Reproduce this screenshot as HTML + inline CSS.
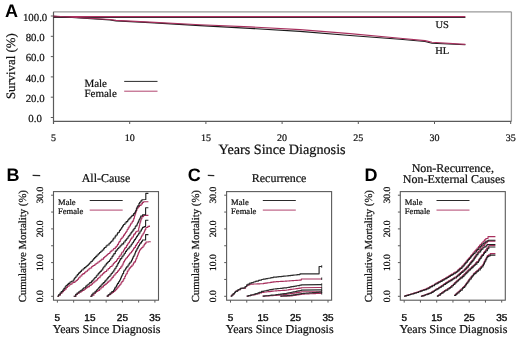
<!DOCTYPE html>
<html><head><meta charset="utf-8"><style>
html,body{margin:0;padding:0;background:#fff;width:520px;height:338px;overflow:hidden;}
svg{display:block;text-rendering:geometricPrecision;filter:blur(0.45px);}
</style></head><body>
<svg width="520" height="338" viewBox="0 0 520 338">
<rect width="520" height="338" fill="#fff"/>
<text x="5" y="16.7" font-size="18" font-family="Liberation Sans, sans-serif" text-anchor="start" font-weight="bold" fill="#000" >A</text>
<line x1="53.5" y1="11.8" x2="511.4" y2="11.8" stroke="#9a9a9a" stroke-width="1.3"/>
<line x1="511.4" y1="11.8" x2="511.4" y2="121.3" stroke="#9a9a9a" stroke-width="1.3"/>
<line x1="53.5" y1="11.8" x2="53.5" y2="124" stroke="#5a5a5a" stroke-width="1.2"/>
<line x1="53.5" y1="121.3" x2="511.4" y2="121.3" stroke="#5a5a5a" stroke-width="1.2"/>
<line x1="50.8" y1="16" x2="53.5" y2="16" stroke="#5a5a5a" stroke-width="1"/>
<text x="35.1" y="20.7" font-size="10.8" font-family="Liberation Serif, serif" text-anchor="middle" font-weight="normal" fill="#111" stroke="#111" stroke-width="0.22">100.0</text>
<line x1="50.8" y1="36.3" x2="53.5" y2="36.3" stroke="#5a5a5a" stroke-width="1"/>
<text x="35.1" y="41.0" font-size="10.8" font-family="Liberation Serif, serif" text-anchor="middle" font-weight="normal" fill="#111" stroke="#111" stroke-width="0.22">80.0</text>
<line x1="50.8" y1="56.6" x2="53.5" y2="56.6" stroke="#5a5a5a" stroke-width="1"/>
<text x="35.1" y="61.300000000000004" font-size="10.8" font-family="Liberation Serif, serif" text-anchor="middle" font-weight="normal" fill="#111" stroke="#111" stroke-width="0.22">60.0</text>
<line x1="50.8" y1="76.9" x2="53.5" y2="76.9" stroke="#5a5a5a" stroke-width="1"/>
<text x="35.1" y="81.60000000000001" font-size="10.8" font-family="Liberation Serif, serif" text-anchor="middle" font-weight="normal" fill="#111" stroke="#111" stroke-width="0.22">40.0</text>
<line x1="50.8" y1="97.2" x2="53.5" y2="97.2" stroke="#5a5a5a" stroke-width="1"/>
<text x="35.1" y="101.9" font-size="10.8" font-family="Liberation Serif, serif" text-anchor="middle" font-weight="normal" fill="#111" stroke="#111" stroke-width="0.22">20.0</text>
<line x1="50.8" y1="117.5" x2="53.5" y2="117.5" stroke="#5a5a5a" stroke-width="1"/>
<text x="35.1" y="122.2" font-size="10.8" font-family="Liberation Serif, serif" text-anchor="middle" font-weight="normal" fill="#111" stroke="#111" stroke-width="0.22">0.0</text>
<line x1="53.5" y1="121.3" x2="53.5" y2="124" stroke="#5a5a5a" stroke-width="1"/>
<text x="53.5" y="140.6" font-size="10" font-family="Liberation Serif, serif" text-anchor="middle" font-weight="normal" fill="#111" stroke="#111" stroke-width="0.22">5</text>
<line x1="129.7" y1="121.3" x2="129.7" y2="124" stroke="#5a5a5a" stroke-width="1"/>
<text x="129.7" y="140.6" font-size="10" font-family="Liberation Serif, serif" text-anchor="middle" font-weight="normal" fill="#111" stroke="#111" stroke-width="0.22">10</text>
<line x1="205.9" y1="121.3" x2="205.9" y2="124" stroke="#5a5a5a" stroke-width="1"/>
<text x="205.9" y="140.6" font-size="10" font-family="Liberation Serif, serif" text-anchor="middle" font-weight="normal" fill="#111" stroke="#111" stroke-width="0.22">15</text>
<line x1="282.1" y1="121.3" x2="282.1" y2="124" stroke="#5a5a5a" stroke-width="1"/>
<text x="282.1" y="140.6" font-size="10" font-family="Liberation Serif, serif" text-anchor="middle" font-weight="normal" fill="#111" stroke="#111" stroke-width="0.22">20</text>
<line x1="358.3" y1="121.3" x2="358.3" y2="124" stroke="#5a5a5a" stroke-width="1"/>
<text x="358.3" y="140.6" font-size="10" font-family="Liberation Serif, serif" text-anchor="middle" font-weight="normal" fill="#111" stroke="#111" stroke-width="0.22">25</text>
<line x1="434.5" y1="121.3" x2="434.5" y2="124" stroke="#5a5a5a" stroke-width="1"/>
<text x="434.5" y="140.6" font-size="10" font-family="Liberation Serif, serif" text-anchor="middle" font-weight="normal" fill="#111" stroke="#111" stroke-width="0.22">30</text>
<line x1="510.70000000000005" y1="121.3" x2="510.70000000000005" y2="124" stroke="#5a5a5a" stroke-width="1"/>
<text x="510.70000000000005" y="140.6" font-size="10" font-family="Liberation Serif, serif" text-anchor="middle" font-weight="normal" fill="#111" stroke="#111" stroke-width="0.22">35</text>
<text x="282.1" y="153.8" font-size="14.2" font-family="Liberation Serif, serif" text-anchor="middle" font-weight="normal" fill="#111" stroke="#111" stroke-width="0.22">Years Since Diagnosis</text>
<text transform="translate(14.7,66.2) rotate(-90)" font-size="12.8" font-family="Liberation Serif, serif" text-anchor="middle" fill="#111" stroke="#111" stroke-width="0.22">Survival (%)</text>
<line x1="53.5" y1="16.6" x2="465.4" y2="16.6" stroke="#b03060" stroke-width="1.3"/>
<line x1="53.5" y1="17.5" x2="465.4" y2="17.5" stroke="#1a0610" stroke-width="1.1" stroke-opacity="0.8"/>
<polyline points="53.50,16.20 72.00,17.50 110.00,19.90 116.00,20.90 150.00,22.60 200.00,25.60 250.00,28.40 300.00,31.40 350.00,35.50 400.00,39.20 425.00,41.50 432.00,43.20 465.40,44.80" fill="none" stroke="#1c1c1c" stroke-width="1.1" stroke-linejoin="round"/>
<polyline points="53.50,16.00 72.00,17.20 110.00,19.50 116.00,20.40 150.00,22.10 200.00,24.80 250.00,26.90 300.00,29.60 350.00,33.60 400.00,38.20 425.00,40.60 432.00,42.30 465.40,44.40" fill="none" stroke="#a8305e" stroke-width="1.1" stroke-linejoin="round"/>
<text x="442.1" y="27.6" font-size="10.5" font-family="Liberation Serif, serif" text-anchor="middle" font-weight="normal" fill="#111" stroke="#111" stroke-width="0.22">US</text>
<text x="442.2" y="54.4" font-size="10.5" font-family="Liberation Serif, serif" text-anchor="middle" font-weight="normal" fill="#111" stroke="#111" stroke-width="0.22">HL</text>
<text x="84.4" y="86.9" font-size="11" font-family="Liberation Serif, serif" text-anchor="start" font-weight="normal" fill="#111" stroke="#111" stroke-width="0.22">Male</text>
<text x="84.4" y="96.6" font-size="11" font-family="Liberation Serif, serif" text-anchor="start" font-weight="normal" fill="#111" stroke="#111" stroke-width="0.22">Female</text>
<line x1="124.2" y1="81.4" x2="157.5" y2="81.4" stroke="#2a2a2a" stroke-width="1.0"/>
<line x1="124.2" y1="91.2" x2="157.5" y2="91.2" stroke="#a8305e" stroke-width="0.9"/>
<text x="6.5" y="181.3" font-size="18" font-family="Liberation Sans, sans-serif" text-anchor="start" font-weight="bold" fill="#000" >B</text>
<rect x="53.5" y="191.6" width="105" height="108.6" fill="none" stroke="#5a5a5a" stroke-width="1.1"/>
<line x1="51.1" y1="296.3" x2="53.5" y2="296.3" stroke="#5a5a5a" stroke-width="1"/>
<line x1="51.1" y1="279.45" x2="53.5" y2="279.45" stroke="#5a5a5a" stroke-width="1"/>
<line x1="51.1" y1="262.6" x2="53.5" y2="262.6" stroke="#5a5a5a" stroke-width="1"/>
<line x1="51.1" y1="245.75" x2="53.5" y2="245.75" stroke="#5a5a5a" stroke-width="1"/>
<line x1="51.1" y1="228.9" x2="53.5" y2="228.9" stroke="#5a5a5a" stroke-width="1"/>
<line x1="51.1" y1="212.05" x2="53.5" y2="212.05" stroke="#5a5a5a" stroke-width="1"/>
<line x1="51.1" y1="195.2" x2="53.5" y2="195.2" stroke="#5a5a5a" stroke-width="1"/>
<text transform="translate(42.9,296.3) rotate(-90)" font-size="9.6" font-family="Liberation Serif, serif" text-anchor="middle" fill="#111" stroke="#111" stroke-width="0.22">0.0</text>
<text transform="translate(42.9,262.6) rotate(-90)" font-size="9.6" font-family="Liberation Serif, serif" text-anchor="middle" fill="#111" stroke="#111" stroke-width="0.22">10.0</text>
<text transform="translate(42.9,228.9) rotate(-90)" font-size="9.6" font-family="Liberation Serif, serif" text-anchor="middle" fill="#111" stroke="#111" stroke-width="0.22">20.0</text>
<text transform="translate(42.9,195.2) rotate(-90)" font-size="9.6" font-family="Liberation Serif, serif" text-anchor="middle" fill="#111" stroke="#111" stroke-width="0.22">30.0</text>
<line x1="57.4" y1="300.2" x2="57.4" y2="302.6" stroke="#5a5a5a" stroke-width="1"/>
<line x1="73.65" y1="300.2" x2="73.65" y2="302.6" stroke="#5a5a5a" stroke-width="1"/>
<line x1="89.9" y1="300.2" x2="89.9" y2="302.6" stroke="#5a5a5a" stroke-width="1"/>
<line x1="106.15" y1="300.2" x2="106.15" y2="302.6" stroke="#5a5a5a" stroke-width="1"/>
<line x1="122.4" y1="300.2" x2="122.4" y2="302.6" stroke="#5a5a5a" stroke-width="1"/>
<line x1="138.65" y1="300.2" x2="138.65" y2="302.6" stroke="#5a5a5a" stroke-width="1"/>
<line x1="154.9" y1="300.2" x2="154.9" y2="302.6" stroke="#5a5a5a" stroke-width="1"/>
<text x="57.4" y="321.2" font-size="10" font-family="Liberation Sans, sans-serif" text-anchor="middle" font-weight="normal" fill="#111" stroke="#111" stroke-width="0.4">5</text>
<text x="89.9" y="321.2" font-size="10" font-family="Liberation Sans, sans-serif" text-anchor="middle" font-weight="normal" fill="#111" stroke="#111" stroke-width="0.4">15</text>
<text x="122.4" y="321.2" font-size="10" font-family="Liberation Sans, sans-serif" text-anchor="middle" font-weight="normal" fill="#111" stroke="#111" stroke-width="0.4">25</text>
<text x="154.9" y="321.2" font-size="10" font-family="Liberation Sans, sans-serif" text-anchor="middle" font-weight="normal" fill="#111" stroke="#111" stroke-width="0.4">35</text>
<text x="106.6" y="333.3" font-size="12.05" font-family="Liberation Serif, serif" text-anchor="middle" font-weight="normal" fill="#111" stroke="#111" stroke-width="0.22">Years Since Diagnosis</text>
<text transform="translate(25.5,246.2) rotate(-90)" font-size="10.75" font-family="Liberation Serif, serif" text-anchor="middle" fill="#111" stroke="#111" stroke-width="0.22">Cumulative Mortality (%)</text>
<text x="106.0" y="182" font-size="12" font-family="Liberation Serif, serif" text-anchor="middle" font-weight="normal" fill="#111" stroke="#111" stroke-width="0.22">All-Cause</text>
<text x="58.0" y="204.7" font-size="8.6" font-family="Liberation Serif, serif" text-anchor="start" font-weight="normal" fill="#111" stroke="#111" stroke-width="0.22">Male</text>
<text x="58.0" y="214.3" font-size="8.6" font-family="Liberation Serif, serif" text-anchor="start" font-weight="normal" fill="#111" stroke="#111" stroke-width="0.22">Female</text>
<line x1="89.7" y1="200.5" x2="122.7" y2="200.5" stroke="#2a2a2a" stroke-width="1.0"/>
<line x1="89.7" y1="210.1" x2="122.7" y2="210.1" stroke="#a8305e" stroke-width="0.9"/>
<text x="187.7" y="181.3" font-size="18" font-family="Liberation Sans, sans-serif" text-anchor="start" font-weight="bold" fill="#000" >C</text>
<rect x="226.6" y="191.6" width="105" height="108.6" fill="none" stroke="#5a5a5a" stroke-width="1.1"/>
<line x1="224.2" y1="296.3" x2="226.6" y2="296.3" stroke="#5a5a5a" stroke-width="1"/>
<line x1="224.2" y1="279.45" x2="226.6" y2="279.45" stroke="#5a5a5a" stroke-width="1"/>
<line x1="224.2" y1="262.6" x2="226.6" y2="262.6" stroke="#5a5a5a" stroke-width="1"/>
<line x1="224.2" y1="245.75" x2="226.6" y2="245.75" stroke="#5a5a5a" stroke-width="1"/>
<line x1="224.2" y1="228.9" x2="226.6" y2="228.9" stroke="#5a5a5a" stroke-width="1"/>
<line x1="224.2" y1="212.05" x2="226.6" y2="212.05" stroke="#5a5a5a" stroke-width="1"/>
<line x1="224.2" y1="195.2" x2="226.6" y2="195.2" stroke="#5a5a5a" stroke-width="1"/>
<text transform="translate(216.0,296.3) rotate(-90)" font-size="9.6" font-family="Liberation Serif, serif" text-anchor="middle" fill="#111" stroke="#111" stroke-width="0.22">0.0</text>
<text transform="translate(216.0,262.6) rotate(-90)" font-size="9.6" font-family="Liberation Serif, serif" text-anchor="middle" fill="#111" stroke="#111" stroke-width="0.22">10.0</text>
<text transform="translate(216.0,228.9) rotate(-90)" font-size="9.6" font-family="Liberation Serif, serif" text-anchor="middle" fill="#111" stroke="#111" stroke-width="0.22">20.0</text>
<text transform="translate(216.0,195.2) rotate(-90)" font-size="9.6" font-family="Liberation Serif, serif" text-anchor="middle" fill="#111" stroke="#111" stroke-width="0.22">30.0</text>
<line x1="230.5" y1="300.2" x2="230.5" y2="302.6" stroke="#5a5a5a" stroke-width="1"/>
<line x1="246.75" y1="300.2" x2="246.75" y2="302.6" stroke="#5a5a5a" stroke-width="1"/>
<line x1="263.0" y1="300.2" x2="263.0" y2="302.6" stroke="#5a5a5a" stroke-width="1"/>
<line x1="279.25" y1="300.2" x2="279.25" y2="302.6" stroke="#5a5a5a" stroke-width="1"/>
<line x1="295.5" y1="300.2" x2="295.5" y2="302.6" stroke="#5a5a5a" stroke-width="1"/>
<line x1="311.75" y1="300.2" x2="311.75" y2="302.6" stroke="#5a5a5a" stroke-width="1"/>
<line x1="328.0" y1="300.2" x2="328.0" y2="302.6" stroke="#5a5a5a" stroke-width="1"/>
<text x="230.5" y="321.2" font-size="10" font-family="Liberation Sans, sans-serif" text-anchor="middle" font-weight="normal" fill="#111" stroke="#111" stroke-width="0.4">5</text>
<text x="263.0" y="321.2" font-size="10" font-family="Liberation Sans, sans-serif" text-anchor="middle" font-weight="normal" fill="#111" stroke="#111" stroke-width="0.4">15</text>
<text x="295.5" y="321.2" font-size="10" font-family="Liberation Sans, sans-serif" text-anchor="middle" font-weight="normal" fill="#111" stroke="#111" stroke-width="0.4">25</text>
<text x="328.0" y="321.2" font-size="10" font-family="Liberation Sans, sans-serif" text-anchor="middle" font-weight="normal" fill="#111" stroke="#111" stroke-width="0.4">35</text>
<text x="279.7" y="333.3" font-size="12.05" font-family="Liberation Serif, serif" text-anchor="middle" font-weight="normal" fill="#111" stroke="#111" stroke-width="0.22">Years Since Diagnosis</text>
<text transform="translate(198.6,246.2) rotate(-90)" font-size="10.75" font-family="Liberation Serif, serif" text-anchor="middle" fill="#111" stroke="#111" stroke-width="0.22">Cumulative Mortality (%)</text>
<text x="279.1" y="182" font-size="12" font-family="Liberation Serif, serif" text-anchor="middle" font-weight="normal" fill="#111" stroke="#111" stroke-width="0.22">Recurrence</text>
<text x="231.1" y="204.7" font-size="8.6" font-family="Liberation Serif, serif" text-anchor="start" font-weight="normal" fill="#111" stroke="#111" stroke-width="0.22">Male</text>
<text x="231.1" y="214.3" font-size="8.6" font-family="Liberation Serif, serif" text-anchor="start" font-weight="normal" fill="#111" stroke="#111" stroke-width="0.22">Female</text>
<line x1="262.8" y1="200.5" x2="295.8" y2="200.5" stroke="#2a2a2a" stroke-width="1.0"/>
<line x1="262.8" y1="210.1" x2="295.8" y2="210.1" stroke="#a8305e" stroke-width="0.9"/>
<text x="364.6" y="181.3" font-size="18" font-family="Liberation Sans, sans-serif" text-anchor="start" font-weight="bold" fill="#000" >D</text>
<rect x="400.3" y="191.6" width="105" height="108.6" fill="none" stroke="#5a5a5a" stroke-width="1.1"/>
<line x1="397.90000000000003" y1="296.3" x2="400.3" y2="296.3" stroke="#5a5a5a" stroke-width="1"/>
<line x1="397.90000000000003" y1="279.45" x2="400.3" y2="279.45" stroke="#5a5a5a" stroke-width="1"/>
<line x1="397.90000000000003" y1="262.6" x2="400.3" y2="262.6" stroke="#5a5a5a" stroke-width="1"/>
<line x1="397.90000000000003" y1="245.75" x2="400.3" y2="245.75" stroke="#5a5a5a" stroke-width="1"/>
<line x1="397.90000000000003" y1="228.9" x2="400.3" y2="228.9" stroke="#5a5a5a" stroke-width="1"/>
<line x1="397.90000000000003" y1="212.05" x2="400.3" y2="212.05" stroke="#5a5a5a" stroke-width="1"/>
<line x1="397.90000000000003" y1="195.2" x2="400.3" y2="195.2" stroke="#5a5a5a" stroke-width="1"/>
<text transform="translate(389.7,296.3) rotate(-90)" font-size="9.6" font-family="Liberation Serif, serif" text-anchor="middle" fill="#111" stroke="#111" stroke-width="0.22">0.0</text>
<text transform="translate(389.7,262.6) rotate(-90)" font-size="9.6" font-family="Liberation Serif, serif" text-anchor="middle" fill="#111" stroke="#111" stroke-width="0.22">10.0</text>
<text transform="translate(389.7,228.9) rotate(-90)" font-size="9.6" font-family="Liberation Serif, serif" text-anchor="middle" fill="#111" stroke="#111" stroke-width="0.22">20.0</text>
<text transform="translate(389.7,195.2) rotate(-90)" font-size="9.6" font-family="Liberation Serif, serif" text-anchor="middle" fill="#111" stroke="#111" stroke-width="0.22">30.0</text>
<line x1="404.2" y1="300.2" x2="404.2" y2="302.6" stroke="#5a5a5a" stroke-width="1"/>
<line x1="420.45" y1="300.2" x2="420.45" y2="302.6" stroke="#5a5a5a" stroke-width="1"/>
<line x1="436.7" y1="300.2" x2="436.7" y2="302.6" stroke="#5a5a5a" stroke-width="1"/>
<line x1="452.95" y1="300.2" x2="452.95" y2="302.6" stroke="#5a5a5a" stroke-width="1"/>
<line x1="469.2" y1="300.2" x2="469.2" y2="302.6" stroke="#5a5a5a" stroke-width="1"/>
<line x1="485.45" y1="300.2" x2="485.45" y2="302.6" stroke="#5a5a5a" stroke-width="1"/>
<line x1="501.7" y1="300.2" x2="501.7" y2="302.6" stroke="#5a5a5a" stroke-width="1"/>
<text x="404.2" y="321.2" font-size="10" font-family="Liberation Sans, sans-serif" text-anchor="middle" font-weight="normal" fill="#111" stroke="#111" stroke-width="0.4">5</text>
<text x="436.7" y="321.2" font-size="10" font-family="Liberation Sans, sans-serif" text-anchor="middle" font-weight="normal" fill="#111" stroke="#111" stroke-width="0.4">15</text>
<text x="469.2" y="321.2" font-size="10" font-family="Liberation Sans, sans-serif" text-anchor="middle" font-weight="normal" fill="#111" stroke="#111" stroke-width="0.4">25</text>
<text x="501.7" y="321.2" font-size="10" font-family="Liberation Sans, sans-serif" text-anchor="middle" font-weight="normal" fill="#111" stroke="#111" stroke-width="0.4">35</text>
<text x="453.40000000000003" y="333.3" font-size="12.05" font-family="Liberation Serif, serif" text-anchor="middle" font-weight="normal" fill="#111" stroke="#111" stroke-width="0.22">Years Since Diagnosis</text>
<text transform="translate(372.3,246.2) rotate(-90)" font-size="10.75" font-family="Liberation Serif, serif" text-anchor="middle" fill="#111" stroke="#111" stroke-width="0.22">Cumulative Mortality (%)</text>
<text x="452.8" y="172" font-size="12" font-family="Liberation Serif, serif" text-anchor="middle" font-weight="normal" fill="#111" stroke="#111" stroke-width="0.22">Non-Recurrence,</text>
<text x="453.90000000000003" y="182.8" font-size="12" font-family="Liberation Serif, serif" text-anchor="middle" font-weight="normal" fill="#111" stroke="#111" stroke-width="0.22">Non-External Causes</text>
<text x="404.8" y="204.7" font-size="8.6" font-family="Liberation Serif, serif" text-anchor="start" font-weight="normal" fill="#111" stroke="#111" stroke-width="0.22">Male</text>
<text x="404.8" y="214.3" font-size="8.6" font-family="Liberation Serif, serif" text-anchor="start" font-weight="normal" fill="#111" stroke="#111" stroke-width="0.22">Female</text>
<line x1="436.5" y1="200.5" x2="469.5" y2="200.5" stroke="#2a2a2a" stroke-width="1.0"/>
<line x1="436.5" y1="210.1" x2="469.5" y2="210.1" stroke="#a8305e" stroke-width="0.9"/>
<path d="M32.6,175.4 L40.2,175.6" stroke="#262626" stroke-width="1.3" fill="none"/>
<path d="M207.8,175.4 L214.3,175.6" stroke="#262626" stroke-width="1.3" fill="none"/>
<polyline points="57.40,296.30 58.72,296.30 58.72,295.00 60.43,295.00 60.43,293.30 62.02,293.30 62.02,291.82 63.54,291.82 63.54,290.40 64.76,290.40 64.76,289.09 66.21,289.09 66.21,287.53 67.44,287.53 67.44,286.20 69.02,286.20 69.02,285.07 70.09,285.07 70.09,284.30 71.90,284.30 71.90,283.00 72.98,283.00 72.98,282.37 75.01,282.37 75.01,281.19 76.20,281.19 76.20,280.50 77.31,280.50 77.31,279.18 78.57,279.18 78.57,277.70 80.00,277.70 80.00,276.00 81.85,276.00 81.85,274.50 82.94,274.50 82.94,273.62 84.69,273.62 84.69,272.20 85.90,272.20 85.90,271.21 87.40,271.21 87.40,270.00 88.90,270.00 88.90,268.80 89.96,268.80 89.96,267.95 91.69,267.95 91.69,266.55 93.00,266.55 93.00,265.50 94.85,265.50 94.85,264.20 96.14,264.20 96.14,263.29 97.87,263.29 97.87,262.07 99.37,262.07 99.37,261.01 100.80,261.01 100.80,260.00 101.82,260.00 101.82,259.12 103.57,259.12 103.57,257.60 104.76,257.60 104.76,256.57 106.00,256.57 106.00,255.50 107.08,255.50 107.08,254.51 108.12,254.51 108.12,253.56 109.82,253.56 109.82,252.00 110.78,252.00 110.78,251.11 112.00,251.11 112.00,250.00 113.66,250.00 113.66,248.52 115.28,248.52 115.28,247.08 116.50,247.08 116.50,246.00 117.50,246.00 117.50,244.34 118.49,244.34 118.49,242.68 119.15,242.68 119.15,241.58 120.24,241.58 120.24,239.77 121.00,239.77 121.00,238.50 122.09,238.50 122.09,237.04 123.50,237.04 123.50,235.17 124.59,235.17 124.59,233.72 125.50,233.72 125.50,232.50 126.23,232.50 126.23,231.20 127.16,231.20 127.16,229.55 128.10,229.55 128.10,227.85 129.14,227.85 129.14,226.00 130.39,226.00 130.39,224.15 131.13,224.15 131.13,223.05 132.24,223.05 132.24,221.41 133.19,221.41 133.19,220.00 133.73,220.00 133.73,218.20 134.40,218.20 134.40,215.99 135.00,215.99 135.00,214.00 135.63,214.00 135.63,212.11 136.28,212.11 136.28,210.15 137.00,210.15 137.00,208.00 138.30,208.00 138.30,206.64 139.50,206.64 139.50,205.40 141.06,205.40 141.06,203.84 142.50,203.84 142.50,202.40 143.60,202.40 143.60,201.80 148.40,201.80" fill="none" stroke="#a8305e" stroke-width="1.1" stroke-linejoin="round"/>
<polyline points="73.70,296.30 75.94,296.30 75.94,294.50 77.43,294.50 77.43,293.30 79.21,293.30 79.21,292.28 81.05,292.28 81.05,291.23 82.33,291.23 82.33,290.50 84.03,290.50 84.03,289.32 85.57,289.32 85.57,288.25 86.78,288.25 86.78,287.41 87.86,287.41 87.86,286.67 89.54,286.67 89.54,285.50 91.11,285.50 91.11,284.20 92.52,284.20 92.52,283.04 93.81,283.04 93.81,281.98 94.91,281.98 94.91,281.06 96.20,281.06 96.20,280.00 97.53,280.00 97.53,278.62 98.43,278.62 98.43,277.68 100.00,277.68 100.00,276.04 101.00,276.04 101.00,275.00 102.45,275.00 102.45,273.70 103.65,273.70 103.65,272.63 104.89,272.63 104.89,271.52 106.60,271.52 106.60,270.00 108.19,270.00 108.19,268.53 109.63,268.53 109.63,267.19 110.37,267.19 110.37,266.51 112.00,266.51 112.00,265.00 113.29,265.00 113.29,263.56 114.20,263.56 114.20,262.56 115.18,262.56 115.18,261.47 116.50,261.47 116.50,260.00 117.55,260.00 117.55,258.51 118.99,258.51 118.99,256.44 120.00,256.44 120.00,255.00 121.38,255.00 121.38,253.02 122.07,253.02 122.07,252.05 123.50,252.05 123.50,250.00 124.56,250.00 124.56,248.41 125.27,248.41 125.27,247.34 126.61,247.34 126.61,245.34 127.50,245.34 127.50,244.00 128.32,244.00 128.32,242.72 129.47,242.72 129.47,240.93 130.42,240.93 130.42,239.46 131.10,239.46 131.10,238.40 132.00,238.40 132.00,237.00 133.46,237.00 133.46,234.92 134.22,234.92 134.22,233.83 135.50,233.83 135.50,232.00 136.61,232.00 136.61,231.21 138.31,231.21 138.31,230.00 138.68,230.00 138.68,228.32 138.93,228.32 138.93,227.17 139.32,227.17 139.32,225.44 139.70,225.44 139.70,223.67 140.07,223.67 140.07,222.00 140.71,222.00 140.71,220.10 141.19,220.10 141.19,218.71 141.90,218.71 141.90,216.60 143.60,216.60 143.60,215.40 148.40,215.40" fill="none" stroke="#a8305e" stroke-width="1.1" stroke-linejoin="round"/>
<polyline points="90.30,296.30 91.70,296.30 91.70,295.14 93.93,295.14 93.93,293.30 95.47,293.30 95.47,292.20 96.41,292.20 96.41,291.52 97.83,291.52 97.83,290.50 99.58,290.50 99.58,288.96 100.97,288.96 100.97,287.75 102.03,287.75 102.03,286.83 103.54,286.83 103.54,285.50 104.81,285.50 104.81,284.42 106.14,284.42 106.14,283.29 107.51,283.29 107.51,282.12 108.77,282.12 108.77,281.05 110.00,281.05 110.00,280.00 111.03,280.00 111.03,278.71 112.06,278.71 112.06,277.42 113.22,277.42 113.22,275.97 114.00,275.97 114.00,275.00 115.13,275.00 115.13,273.75 116.21,273.75 116.21,272.54 117.50,272.54 117.50,271.11 118.50,271.11 118.50,270.00 119.51,270.00 119.51,268.55 120.72,268.55 120.72,266.83 122.00,266.83 122.00,265.00 123.03,265.00 123.03,262.94 123.68,262.94 123.68,261.65 124.50,261.65 124.50,260.00 125.52,260.00 125.52,258.72 126.26,258.72 126.26,257.81 127.46,257.81 127.46,256.30 128.50,256.30 128.50,255.00 129.54,255.00 129.54,253.70 130.26,253.70 130.26,252.80 131.56,252.80 131.56,251.18 132.50,251.18 132.50,250.00 133.57,250.00 133.57,248.40 134.28,248.40 134.28,247.33 135.56,247.33 135.56,245.40 136.50,245.40 136.50,244.00 137.48,244.00 137.48,242.53 138.59,242.53 138.59,240.87 139.43,240.87 139.43,239.61 140.50,239.61 140.50,238.00 141.33,238.00 141.33,236.34 142.00,236.34 142.00,235.00 143.12,235.00 143.12,233.32 144.00,233.32 144.00,232.00 144.47,232.00 144.47,230.86 145.10,230.86 145.10,229.33 145.86,229.33 145.86,227.50 147.82,227.50 147.82,226.41 149.47,226.41 149.47,225.50" fill="none" stroke="#a8305e" stroke-width="1.1" stroke-linejoin="round"/>
<polyline points="106.70,296.10 108.42,296.10 108.42,294.95 109.33,294.95 109.33,294.35 110.90,294.35 110.90,293.30 112.17,293.30 112.17,292.39 113.56,292.39 113.56,291.39 114.80,291.39 114.80,290.50 115.76,290.50 115.76,289.36 116.84,289.36 116.84,288.09 117.86,288.09 117.86,286.87 119.01,286.87 119.01,285.50 119.95,285.50 119.95,284.21 121.05,284.21 121.05,282.68 121.90,282.68 121.90,281.51 123.00,281.51 123.00,280.00 123.78,280.00 123.78,278.44 124.78,278.44 124.78,276.44 125.50,276.44 125.50,275.00 126.14,275.00 126.14,273.73 127.20,273.73 127.20,271.61 128.00,271.61 128.00,270.00 129.12,270.00 129.12,268.60 129.91,268.60 129.91,267.62 130.86,267.62 130.86,266.42 132.00,266.42 132.00,265.00 133.34,265.00 133.34,263.08 134.18,263.08 134.18,261.88 135.50,261.88 135.50,260.00 136.06,260.00 136.06,258.59 136.81,258.59 136.81,256.72 137.50,256.72 137.50,255.00 138.23,255.00 138.23,253.17 138.70,253.17 138.70,252.00 139.50,252.00 139.50,250.00 140.56,250.00 140.56,248.79 141.74,248.79 141.74,247.44 143.00,247.44 143.00,246.00 144.17,246.00 144.17,244.44 144.97,244.44 144.97,243.37 146.00,243.37 146.00,242.00 148.59,242.00 148.59,241.76 150.40,241.76 150.40,241.60" fill="none" stroke="#a8305e" stroke-width="1.1" stroke-linejoin="round"/>
<polyline points="57.40,296.30 58.49,296.30 58.49,294.92 60.00,294.92 60.00,293.00 61.24,293.00 61.24,291.62 62.70,291.62 62.70,290.00 63.88,290.00 63.88,288.39 65.11,288.39 65.11,286.71 66.00,286.71 66.00,285.50 67.30,285.50 67.30,284.36 68.48,284.36 68.48,283.33 70.00,283.33 70.00,282.00 71.30,282.00 71.30,281.19 73.20,281.19 73.20,280.00 74.15,280.00 74.15,278.65 74.92,278.65 74.92,277.54 76.00,277.54 76.00,276.00 77.27,276.00 77.27,274.62 78.39,274.62 78.39,273.40 79.13,273.40 79.13,272.59 80.28,272.59 80.28,271.33 81.50,271.33 81.50,270.00 83.09,270.00 83.09,268.70 84.35,268.70 84.35,267.67 85.84,267.67 85.84,266.45 87.00,266.45 87.00,265.50 88.22,265.50 88.22,264.23 89.40,264.23 89.40,263.00 90.84,263.00 90.84,261.52 92.30,261.52 92.30,260.00 93.65,260.00 93.65,258.57 94.52,258.57 94.52,257.64 95.73,257.64 95.73,256.35 97.00,256.35 97.00,255.00 98.25,255.00 98.25,253.80 99.55,253.80 99.55,252.55 100.84,252.55 100.84,251.31 102.20,251.31 102.20,250.00 103.73,250.00 103.73,248.39 104.52,248.39 104.52,247.56 106.00,247.56 106.00,246.00 107.03,246.00 107.03,245.06 109.05,245.06 109.05,243.22 110.39,243.22 110.39,242.01 111.50,242.01 111.50,241.00 112.90,241.00 112.90,239.13 113.71,239.13 113.71,238.05 115.13,238.05 115.13,236.16 116.00,236.16 116.00,235.00 117.37,235.00 117.37,233.18 118.09,233.18 118.09,232.21 119.51,232.21 119.51,230.32 120.50,230.32 120.50,229.00 121.67,229.00 121.67,227.25 122.58,227.25 122.58,225.88 123.50,225.88 123.50,224.50 124.91,224.50 124.91,222.99 126.15,222.99 126.15,221.66 127.70,221.66 127.70,220.00 128.71,220.00 128.71,218.93 129.75,218.93 129.75,217.83 131.00,217.83 131.00,216.50 131.99,216.50 131.99,215.40 133.59,215.40 133.59,213.64 134.80,213.64 134.80,212.30 135.46,212.30 135.46,210.72 136.38,210.72 136.38,208.49 137.00,208.49 137.00,207.00 137.67,207.00 137.67,205.76 138.91,205.76 138.91,203.48 139.60,203.48 139.60,202.20 140.86,202.20 140.86,200.88 141.90,200.88 141.90,199.80 145.80,199.50 145.80,193.40 148.40,193.40" fill="none" stroke="#222" stroke-width="1.12" stroke-linejoin="round"/>
<polyline points="73.70,296.30 75.70,296.30 75.70,294.30 77.00,294.30 77.00,293.00 78.68,293.00 78.68,291.80 80.08,291.80 80.08,290.80 81.20,290.80 81.20,290.00 82.71,290.00 82.71,288.70 83.75,288.70 83.75,287.80 85.73,287.80 85.73,286.10 87.00,286.10 87.00,285.00 88.19,285.00 88.19,283.96 89.71,283.96 89.71,282.63 91.39,282.63 91.39,281.15 92.70,281.15 92.70,280.00 93.79,280.00 93.79,278.73 94.80,278.73 94.80,277.55 96.16,277.55 96.16,275.98 97.00,275.98 97.00,275.00 98.14,275.00 98.14,273.68 99.06,273.68 99.06,272.60 100.09,272.60 100.09,271.40 101.30,271.40 101.30,270.00 102.76,270.00 102.76,268.03 103.75,268.03 103.75,266.69 105.00,266.69 105.00,265.00 106.28,265.00 106.28,263.57 107.17,263.57 107.17,262.59 108.20,262.59 108.20,261.44 109.50,261.44 109.50,260.00 110.69,260.00 110.69,258.30 112.02,258.30 112.02,256.40 113.00,256.40 113.00,255.00 113.89,255.00 113.89,253.61 115.29,253.61 115.29,251.42 116.20,251.42 116.20,250.00 117.65,250.00 117.65,248.49 118.78,248.49 118.78,247.31 119.99,247.31 119.99,246.05 121.00,246.05 121.00,245.00 121.98,245.00 121.98,243.91 123.68,243.91 123.68,242.01 125.14,242.01 125.14,240.39 126.20,240.39 126.20,239.20 126.94,239.20 126.94,238.19 127.99,238.19 127.99,236.75 128.94,236.75 128.94,235.45 130.00,235.45 130.00,234.00 131.01,234.00 131.01,232.61 131.96,232.61 131.96,231.30 132.99,231.30 132.99,229.89 134.00,229.89 134.00,228.50 135.14,228.50 135.14,226.79 135.75,226.79 135.75,225.87 137.00,225.87 137.00,224.00 137.58,224.00 137.58,222.76 138.34,222.76 138.34,221.10 139.08,221.10 139.08,219.50 139.80,219.50 139.80,217.95 140.70,217.95 140.70,216.00 142.50,216.00 142.50,214.80 145.60,214.80 145.60,207.70 148.40,207.70" fill="none" stroke="#222" stroke-width="1.12" stroke-linejoin="round"/>
<polyline points="90.30,296.30 91.97,296.30 91.97,294.26 93.00,294.26 93.00,293.00 95.06,293.00 95.06,291.23 96.50,291.23 96.50,290.00 97.39,290.00 97.39,289.01 98.75,289.01 98.75,287.50 99.77,287.50 99.77,286.37 101.00,286.37 101.00,285.00 102.09,285.00 102.09,283.87 103.31,283.87 103.31,282.59 104.69,282.59 104.69,281.16 105.80,281.16 105.80,280.00 106.90,280.00 106.90,278.70 107.83,278.70 107.83,277.59 108.79,277.59 108.79,276.44 110.00,276.44 110.00,275.00 111.16,275.00 111.16,273.48 112.30,273.48 112.30,271.98 113.80,271.98 113.80,270.00 114.90,270.00 114.90,268.29 116.05,268.29 116.05,266.49 117.00,266.49 117.00,265.00 117.81,265.00 117.81,263.43 118.55,263.43 118.55,262.02 119.60,262.02 119.60,260.00 120.55,260.00 120.55,258.60 121.79,258.60 121.79,256.77 123.00,256.77 123.00,255.00 124.23,255.00 124.23,253.25 125.50,253.25 125.50,251.43 126.50,251.43 126.50,250.00 127.60,250.00 127.60,248.75 129.01,248.75 129.01,247.13 130.00,247.13 130.00,246.00 131.24,246.00 131.24,244.23 132.29,244.23 132.29,242.72 133.50,242.72 133.50,241.00 134.44,241.00 134.44,239.60 135.50,239.60 135.50,238.00 136.60,238.00 136.60,236.35 137.50,236.35 137.50,235.00 138.70,235.00 138.70,233.08 140.00,233.08 140.00,231.00 141.37,231.00 141.37,229.03 142.50,229.03 142.50,227.40 144.02,227.40 144.02,226.47 145.60,226.47 145.60,225.50 145.60,220.20 148.40,220.20" fill="none" stroke="#222" stroke-width="1.12" stroke-linejoin="round"/>
<polyline points="106.70,296.10 108.14,296.10 108.14,294.75 110.00,294.75 110.00,293.00 111.78,293.00 111.78,291.47 113.50,291.47 113.50,290.00 114.60,290.00 114.60,288.17 115.29,288.17 115.29,287.02 116.50,287.02 116.50,285.00 117.49,285.00 117.49,283.40 118.53,283.40 118.53,281.73 119.60,281.73 119.60,280.00 120.55,280.00 120.55,278.02 121.37,278.02 121.37,276.30 122.00,276.30 122.00,275.00 122.69,275.00 122.69,273.44 123.61,273.44 123.61,271.34 124.20,271.34 124.20,270.00 125.65,270.00 125.65,268.09 126.58,268.09 126.58,266.86 128.00,266.86 128.00,265.00 129.15,265.00 129.15,263.36 130.11,263.36 130.11,261.98 131.50,261.98 131.50,260.00 132.46,260.00 132.46,258.07 133.23,258.07 133.23,256.53 134.00,256.53 134.00,255.00 134.88,255.00 134.88,253.01 135.57,253.01 135.57,251.42 136.20,251.42 136.20,250.00 137.09,250.00 137.09,248.37 137.95,248.37 137.95,246.82 138.70,246.82 138.70,245.45 139.50,245.45 139.50,244.00 140.30,244.00 140.30,242.93 141.54,242.93 141.54,241.27 142.50,241.27 142.50,240.00 145.60,240.00 145.60,234.60 148.40,234.60" fill="none" stroke="#222" stroke-width="1.12" stroke-linejoin="round"/>
<polyline points="230.70,296.10 231.60,296.10 231.60,295.22 232.89,295.22 232.89,293.96 234.46,293.96 234.46,292.41 235.50,292.41 235.50,291.40 236.71,291.40 236.71,290.68 238.31,290.68 238.31,289.72 240.20,289.72 240.20,288.60 241.64,288.60 241.64,288.44 243.80,288.44 243.80,288.20 245.53,288.20 245.53,286.59 246.70,286.59 246.70,285.50 247.96,285.50 247.96,284.95 249.70,284.95 249.70,284.20 250.98,284.20 250.98,284.15 253.36,284.15 253.36,284.04 254.44,284.04 254.44,284.00 256.73,284.00 256.73,283.90 258.27,283.90 258.27,283.84 260.10,283.84 260.10,283.76 261.50,283.76 261.50,283.70 263.57,283.70 263.57,283.38 264.94,283.38 264.94,283.18 266.81,283.18 266.81,282.89 267.85,282.89 267.85,282.73 270.15,282.73 270.15,282.38 271.62,282.38 271.62,282.16 273.30,282.16 273.30,281.90 275.18,281.90 275.18,281.77 276.37,281.77 276.37,281.69 278.61,281.69 278.61,281.54 280.47,281.54 280.47,281.42 281.43,281.42 281.43,281.35 283.35,281.35 283.35,281.22 285.20,281.22 285.20,281.10 286.99,281.10 286.99,280.97 288.95,280.97 288.95,280.84 290.18,280.84 290.18,280.75 291.86,280.75 291.86,280.63 293.65,280.63 293.65,280.50 295.70,280.50 295.70,280.36 297.55,280.36 297.55,280.23 298.97,280.23 298.97,280.13 300.80,280.13 300.80,280.00 301.30,280.00 301.30,279.00 319.10,279.00 321.70,279.00" fill="none" stroke="#a8305e" stroke-width="1.15" stroke-linejoin="round"/>
<polyline points="246.70,296.10 248.36,296.10 248.36,295.75 250.17,295.75 250.17,295.36 251.91,295.36 251.91,294.99 253.75,294.99 253.75,294.60 255.60,294.60 255.60,294.20 257.16,294.20 257.16,293.73 259.53,293.73 259.53,293.00 261.50,293.00 261.50,292.40 263.58,292.40 263.58,292.15 264.80,292.15 264.80,292.01 266.77,292.01 266.77,291.78 267.96,291.78 267.96,291.63 270.09,291.63 270.09,291.38 271.83,291.38 271.83,291.17 273.30,291.17 273.30,291.00 275.15,291.00 275.15,290.88 276.71,290.88 276.71,290.77 278.39,290.77 278.39,290.66 280.22,290.66 280.22,290.53 282.14,290.53 282.14,290.41 283.20,290.41 283.20,290.33 285.20,290.33 285.20,290.20 286.48,290.20 286.48,290.01 288.62,290.01 288.62,289.69 290.37,289.69 290.37,289.43 291.65,289.43 291.65,289.24 293.20,289.24 293.20,289.01 295.04,289.01 295.04,288.73 296.22,288.73 296.22,288.56 297.89,288.56 297.89,288.31 299.45,288.31 299.45,288.08 301.30,288.08 301.30,287.80 319.10,287.50 321.70,287.50" fill="none" stroke="#a8305e" stroke-width="1.15" stroke-linejoin="round"/>
<polyline points="262.70,296.10 264.54,296.10 264.54,296.00 266.07,296.00 266.07,295.91 267.76,295.91 267.76,295.81 269.94,295.81 269.94,295.69 271.93,295.69 271.93,295.58 273.30,295.58 273.30,295.50 274.83,295.50 274.83,295.37 276.87,295.37 276.87,295.20 278.33,295.20 278.33,295.08 280.40,295.08 280.40,294.90 281.87,294.90 281.87,294.78 283.30,294.78 283.30,294.66 285.20,294.66 285.20,294.50 286.58,294.50 286.58,294.27 288.04,294.27 288.04,294.02 290.01,294.02 290.01,293.69 291.55,293.69 291.55,293.44 292.99,293.44 292.99,293.19 294.75,293.19 294.75,292.90 296.33,292.90 296.33,292.63 298.30,292.63 298.30,292.30 299.40,292.30 299.40,292.12 301.30,292.12 301.30,291.80 319.10,291.70 321.70,291.70" fill="none" stroke="#a8305e" stroke-width="1.15" stroke-linejoin="round"/>
<polyline points="280.40,296.10 290.00,295.90 292.01,295.90 292.01,295.60 293.21,295.60 293.21,295.42 294.92,295.42 294.92,295.16 296.43,295.16 296.43,294.93 298.34,294.93 298.34,294.65 299.95,294.65 299.95,294.40 301.30,294.40 301.30,294.20 302.96,294.20 302.96,294.12 304.52,294.12 304.52,294.04 306.33,294.04 306.33,293.95 308.06,293.95 308.06,293.86 309.31,293.86 309.31,293.79 311.20,293.79 311.20,293.70 313.00,293.70 313.00,293.61 314.22,293.61 314.22,293.55 315.64,293.55 315.64,293.47 317.27,293.47 317.27,293.39 319.10,293.39 319.10,293.30 321.70,293.30" fill="none" stroke="#a8305e" stroke-width="1.15" stroke-linejoin="round"/>
<polyline points="230.70,296.10 232.03,296.10 232.03,294.80 233.21,294.80 233.21,293.65 234.58,293.65 234.58,292.31 235.50,292.31 235.50,291.40 237.34,291.40 237.34,290.22 238.43,290.22 238.43,289.53 240.20,289.53 240.20,288.40 241.72,288.40 241.72,288.15 243.80,288.15 243.80,287.80 245.08,287.80 245.08,286.52 246.70,286.52 246.70,284.90 247.97,284.90 247.97,284.14 249.70,284.14 249.70,283.10 251.56,283.10 251.56,282.53 253.37,282.53 253.37,281.98 255.09,281.98 255.09,281.45 256.24,281.45 256.24,281.11 258.44,281.11 258.44,280.43 259.66,280.43 259.66,280.06 261.50,280.06 261.50,279.50 263.12,279.50 263.12,279.18 265.06,279.18 265.06,278.81 266.21,278.81 266.21,278.58 267.90,278.58 267.90,278.25 270.21,278.25 270.21,277.80 271.44,277.80 271.44,277.56 273.30,277.56 273.30,277.20 274.88,277.20 274.88,277.04 276.77,277.04 276.77,276.85 278.55,276.85 278.55,276.67 279.68,276.67 279.68,276.56 281.66,276.56 281.66,276.36 283.45,276.36 283.45,276.18 285.20,276.18 285.20,276.00 286.97,276.00 286.97,275.80 288.52,275.80 288.52,275.63 290.64,275.63 290.64,275.39 292.76,275.39 292.76,275.15 294.04,275.15 294.04,275.01 295.96,275.01 295.96,274.80 297.37,274.80 297.37,274.64 299.50,274.64 299.50,274.40 300.00,274.40 300.00,273.80 319.10,273.80 319.10,266.50 321.70,266.50" fill="none" stroke="#2e2e2e" stroke-width="1.2" stroke-linejoin="round"/>
<polyline points="246.70,296.10 248.28,296.10 248.28,295.67 250.41,295.67 250.41,295.10 251.70,295.10 251.70,294.75 254.16,294.75 254.16,294.09 255.60,294.09 255.60,293.70 257.97,293.70 257.97,292.78 259.14,292.78 259.14,292.32 261.50,292.32 261.50,291.40 263.56,291.40 263.56,290.98 264.77,290.98 264.77,290.74 266.79,290.74 266.79,290.32 268.46,290.32 268.46,289.98 269.76,289.98 269.76,289.72 271.76,289.72 271.76,289.31 273.30,289.31 273.30,289.00 275.13,289.00 275.13,288.82 276.96,288.82 276.96,288.63 278.20,288.63 278.20,288.51 280.32,288.51 280.32,288.29 282.19,288.29 282.19,288.10 283.65,288.10 283.65,287.96 285.20,287.96 285.20,287.80 286.84,287.80 286.84,287.50 288.11,287.50 288.11,287.28 290.03,287.28 290.03,286.93 291.52,286.93 291.52,286.66 293.43,286.66 293.43,286.32 295.00,286.32 295.00,286.03 296.52,286.03 296.52,285.76 297.82,285.76 297.82,285.53 299.81,285.53 299.81,285.17 301.30,285.17 301.30,284.90 319.10,284.60 321.70,284.60" fill="none" stroke="#2e2e2e" stroke-width="1.2" stroke-linejoin="round"/>
<polyline points="262.70,296.10 264.58,296.10 264.58,295.90 265.95,295.90 265.95,295.76 268.34,295.76 268.34,295.51 269.90,295.51 269.90,295.35 271.20,295.35 271.20,295.22 273.30,295.22 273.30,295.00 275.37,295.00 275.37,294.74 276.40,294.74 276.40,294.61 278.26,294.61 278.26,294.38 280.29,294.38 280.29,294.12 281.88,294.12 281.88,293.92 283.55,293.92 283.55,293.71 285.20,293.71 285.20,293.50 286.93,293.50 286.93,293.15 288.39,293.15 288.39,292.85 289.88,292.85 289.88,292.54 291.38,292.54 291.38,292.23 292.90,292.23 292.90,291.92 295.03,291.92 295.03,291.48 296.67,291.48 296.67,291.15 298.11,291.15 298.11,290.85 299.88,290.85 299.88,290.49 301.30,290.49 301.30,290.20 319.10,289.80 321.70,289.80" fill="none" stroke="#2e2e2e" stroke-width="1.2" stroke-linejoin="round"/>
<polyline points="280.40,296.10 281.89,296.10 281.89,296.01 283.41,296.01 283.41,295.91 285.11,295.91 285.11,295.81 287.10,295.81 287.10,295.68 288.03,295.68 288.03,295.62 290.00,295.62 290.00,295.50 291.62,295.50 291.62,295.21 293.02,295.21 293.02,294.96 295.06,294.96 295.06,294.60 296.34,294.60 296.34,294.38 297.94,294.38 297.94,294.10 299.61,294.10 299.61,293.80 301.30,293.80 301.30,293.50 302.95,293.50 302.95,293.38 304.76,293.38 304.76,293.25 306.04,293.25 306.04,293.15 308.05,293.15 308.05,293.01 309.08,293.01 309.08,292.93 310.82,292.93 310.82,292.80 312.30,292.80 312.30,292.70 313.93,292.70 313.93,292.58 316.09,292.58 316.09,292.42 317.67,292.42 317.67,292.30 319.10,292.30 319.10,292.20 321.70,292.20" fill="none" stroke="#2e2e2e" stroke-width="1.2" stroke-linejoin="round"/>
<line x1="321.7" y1="265.3" x2="321.7" y2="267.7" stroke="#1c1c1c" stroke-width="0.9"/>
<line x1="321.7" y1="277.5" x2="321.7" y2="279.9" stroke="#1c1c1c" stroke-width="0.9"/>
<line x1="321.7" y1="283.40000000000003" x2="321.7" y2="285.8" stroke="#1c1c1c" stroke-width="0.9"/>
<line x1="321.7" y1="286.3" x2="321.7" y2="288.7" stroke="#1c1c1c" stroke-width="0.9"/>
<line x1="321.7" y1="288.6" x2="321.7" y2="291.0" stroke="#1c1c1c" stroke-width="0.9"/>
<line x1="321.7" y1="290.5" x2="321.7" y2="292.9" stroke="#1c1c1c" stroke-width="0.9"/>
<line x1="321.7" y1="292.1" x2="321.7" y2="294.5" stroke="#1c1c1c" stroke-width="0.9"/>
<polyline points="404.00,296.00 405.32,296.00 405.32,295.59 406.90,295.59 406.90,295.10 408.65,295.10 408.65,294.56 410.48,294.56 410.48,294.00 412.11,294.00 412.11,293.49 413.62,293.49 413.62,293.03 415.00,293.03 415.00,292.60 416.73,292.60 416.73,291.97 418.02,291.97 418.02,291.51 419.89,291.51 419.89,290.83 421.37,290.83 421.37,290.29 423.31,290.29 423.31,289.59 425.00,289.59 425.00,288.98 426.60,288.98 426.60,288.40 427.89,288.40 427.89,287.68 429.44,287.68 429.44,286.81 431.35,286.81 431.35,285.73 432.29,285.73 432.29,285.20 434.39,285.20 434.39,284.02 435.97,284.02 435.97,283.13 437.53,283.13 437.53,282.26 438.70,282.26 438.70,281.60 440.26,281.60 440.26,280.70 442.06,280.70 442.06,279.65 443.75,279.65 443.75,278.68 445.45,278.68 445.45,277.70 447.00,277.70 447.00,276.80 448.94,276.80 448.94,275.64 450.28,275.64 450.28,274.85 451.54,274.85 451.54,274.09 453.55,274.09 453.55,272.90 454.82,272.90 454.82,272.14 456.40,272.14 456.40,271.20 457.79,271.20 457.79,269.90 459.19,269.90 459.19,268.58 460.03,268.58 460.03,267.79 461.86,267.79 461.86,266.07 463.00,266.07 463.00,265.00 464.15,265.00 464.15,263.59 465.12,263.59 465.12,262.41 466.19,262.41 466.19,261.08 467.22,261.08 467.22,259.83 468.30,259.83 468.30,258.50 469.25,258.50 469.25,257.37 470.55,257.37 470.55,255.81 471.39,255.81 471.39,254.81 472.77,254.81 472.77,253.17 473.96,253.17 473.96,251.74 475.00,251.74 475.00,250.50 476.04,250.50 476.04,249.28 477.17,249.28 477.17,247.96 478.44,247.96 478.44,246.46 479.48,246.46 479.48,245.25 480.14,245.25 480.14,244.48 481.40,244.48 481.40,243.00 483.08,243.00 483.08,241.28 484.42,241.28 484.42,239.91 485.80,239.91 485.80,238.50 488.00,238.50 488.00,236.60 495.40,236.60" fill="none" stroke="#a8305e" stroke-width="1.1" stroke-linejoin="round"/>
<polyline points="420.90,296.10 422.08,296.10 422.08,295.67 423.83,295.67 423.83,295.04 425.25,295.04 425.25,294.52 426.65,294.52 426.65,294.02 428.51,294.02 428.51,293.34 430.00,293.34 430.00,292.80 431.76,292.80 431.76,291.71 432.77,291.71 432.77,291.08 434.62,291.08 434.62,289.93 435.94,289.93 435.94,289.11 436.98,289.11 436.98,288.46 438.70,288.46 438.70,287.40 440.33,287.40 440.33,286.30 441.54,286.30 441.54,285.49 443.15,285.49 443.15,284.40 444.38,284.40 444.38,283.57 445.78,283.57 445.78,282.62 447.00,282.62 447.00,281.80 448.44,281.80 448.44,280.91 450.37,280.91 450.37,279.72 452.04,279.72 452.04,278.69 453.55,278.69 453.55,277.76 454.78,277.76 454.78,277.00 456.40,277.00 456.40,276.00 457.93,276.00 457.93,274.65 459.10,274.65 459.10,273.61 460.21,273.61 460.21,272.63 461.52,272.63 461.52,271.47 462.90,271.47 462.90,270.25 464.34,270.25 464.34,268.98 465.90,268.98 465.90,267.60 466.88,267.60 466.88,266.41 468.26,266.41 468.26,264.74 469.57,264.74 469.57,263.16 470.66,263.16 470.66,261.84 471.77,261.84 471.77,260.49 473.00,260.49 473.00,259.00 474.07,259.00 474.07,257.39 474.90,257.39 474.90,256.15 475.98,256.15 475.98,254.53 477.13,254.53 477.13,252.81 478.00,252.81 478.00,251.50 479.16,251.50 479.16,250.07 480.25,250.07 480.25,248.74 481.92,248.74 481.92,246.70 482.90,246.70 482.90,245.50 484.53,245.50 484.53,243.87 485.74,243.87 485.74,242.66 487.30,242.66 487.30,241.10 495.40,241.10" fill="none" stroke="#a8305e" stroke-width="1.1" stroke-linejoin="round"/>
<polyline points="436.90,296.00 438.33,296.00 438.33,294.95 439.97,294.95 439.97,293.73 441.55,293.73 441.55,292.57 443.00,292.57 443.00,291.50 444.29,291.50 444.29,290.66 445.63,290.66 445.63,289.78 447.28,289.78 447.28,288.70 449.21,288.70 449.21,287.44 450.50,287.44 450.50,286.60 451.63,286.60 451.63,285.51 453.22,285.51 453.22,283.98 454.42,283.98 454.42,282.83 456.00,282.83 456.00,281.30 457.08,281.30 457.08,280.36 458.31,280.36 458.31,279.28 459.72,279.28 459.72,278.05 460.83,278.05 460.83,277.08 462.30,277.08 462.30,275.80 463.17,275.80 463.17,274.91 464.36,274.91 464.36,273.71 465.53,273.71 465.53,272.51 466.85,272.51 466.85,271.17 468.00,271.17 468.00,270.00 468.97,270.00 468.97,269.11 470.18,269.11 470.18,267.99 471.69,267.99 471.69,266.61 472.90,266.61 472.90,265.49 474.20,265.49 474.20,264.30 475.74,264.30 475.74,262.65 476.69,262.65 476.69,261.64 478.40,261.64 478.40,259.80 479.26,259.80 479.26,258.54 480.15,258.54 480.15,257.22 480.89,257.22 480.89,256.14 482.00,256.14 482.00,254.50 483.56,254.50 483.56,252.45 484.36,252.45 484.36,251.40 485.80,251.40 485.80,249.50 486.60,249.50 486.60,248.44 487.79,248.44 487.79,246.85 488.80,246.85 488.80,245.50 495.40,245.50" fill="none" stroke="#a8305e" stroke-width="1.1" stroke-linejoin="round"/>
<polyline points="454.10,295.30 455.12,295.30 455.12,294.41 456.63,294.41 456.63,293.08 457.68,293.08 457.68,292.16 459.00,292.16 459.00,291.00 459.93,291.00 459.93,290.07 461.02,290.07 461.02,288.98 462.55,288.98 462.55,287.45 463.43,287.45 463.43,286.57 464.70,286.57 464.70,285.30 465.93,285.30 465.93,283.56 466.83,283.56 466.83,282.28 468.16,282.28 468.16,280.39 469.00,280.39 469.00,279.20 469.94,279.20 469.94,278.05 470.95,278.05 470.95,276.80 472.00,276.80 472.00,275.51 473.32,275.51 473.32,273.88 474.20,273.88 474.20,272.80 475.73,272.80 475.73,271.45 476.96,271.45 476.96,270.36 478.50,270.36 478.50,269.00 479.38,269.00 479.38,268.06 480.80,268.06 480.80,266.54 482.06,266.54 482.06,265.20 482.90,265.20 482.90,264.30 483.63,264.30 483.63,262.73 484.13,262.73 484.13,261.67 485.00,261.67 485.00,259.80 485.59,259.80 485.59,258.70 486.38,258.70 486.38,257.23 487.30,257.23 487.30,255.50 488.51,255.50 488.51,254.71 490.20,254.71 490.20,253.60 495.40,253.60" fill="none" stroke="#a8305e" stroke-width="1.1" stroke-linejoin="round"/>
<polyline points="404.00,296.20 405.21,296.20 405.21,295.85 406.79,295.85 406.79,295.39 408.84,295.39 408.84,294.79 410.60,294.79 410.60,294.28 411.62,294.28 411.62,293.98 413.80,293.98 413.80,293.35 415.00,293.35 415.00,293.00 416.64,293.00 416.64,292.44 418.57,292.44 418.57,291.77 420.32,291.77 420.32,291.17 421.99,291.17 421.99,290.59 422.90,290.59 422.90,290.28 424.78,290.28 424.78,289.63 426.60,289.63 426.60,289.00 428.19,289.00 428.19,288.10 429.96,288.10 429.96,287.11 430.83,287.11 430.83,286.63 432.49,286.63 432.49,285.69 434.43,285.69 434.43,284.60 435.38,284.60 435.38,284.06 437.10,284.06 437.10,283.10 438.70,283.10 438.70,282.20 440.22,282.20 440.22,281.34 442.17,281.34 442.17,280.24 444.04,280.24 444.04,279.18 445.07,279.18 445.07,278.59 447.00,278.59 447.00,277.50 448.75,277.50 448.75,276.47 450.32,276.47 450.32,275.56 451.96,275.56 451.96,274.60 453.31,274.60 453.31,273.81 455.17,273.81 455.17,272.72 456.40,272.72 456.40,272.00 457.63,272.00 457.63,270.88 458.98,270.88 458.98,269.65 460.18,269.65 460.18,268.56 461.86,268.56 461.86,267.03 463.00,267.03 463.00,266.00 464.05,266.00 464.05,264.71 465.00,264.71 465.00,263.55 466.00,263.55 466.00,262.31 467.36,262.31 467.36,260.66 468.30,260.66 468.30,259.50 469.48,259.50 469.48,258.18 470.65,258.18 470.65,256.87 471.59,256.87 471.59,255.82 472.76,255.82 472.76,254.51 473.69,254.51 473.69,253.47 475.00,253.47 475.00,252.00 476.41,252.00 476.41,250.45 477.25,250.45 477.25,249.53 478.82,249.53 478.82,247.82 480.29,247.82 480.29,246.22 481.40,246.22 481.40,245.00 483.00,245.00 483.00,243.66 484.04,243.66 484.04,242.78 485.80,242.78 485.80,241.30 488.00,241.30 488.00,240.30 495.40,240.30" fill="none" stroke="#222" stroke-width="1.1" stroke-linejoin="round"/>
<polyline points="420.90,296.30 422.22,296.30 422.22,295.85 424.19,295.85 424.19,295.18 425.56,295.18 425.56,294.71 427.25,294.71 427.25,294.14 428.77,294.14 428.77,293.62 430.00,293.62 430.00,293.20 431.41,293.20 431.41,292.36 433.19,292.36 433.19,291.29 434.52,291.29 434.52,290.50 435.68,290.50 435.68,289.81 437.16,289.81 437.16,288.92 438.70,288.92 438.70,288.00 439.79,288.00 439.79,287.28 441.40,287.28 441.40,286.21 443.17,286.21 443.17,285.04 443.96,285.04 443.96,284.51 445.66,284.51 445.66,283.39 447.00,283.39 447.00,282.50 448.26,282.50 448.26,281.74 449.81,281.74 449.81,280.80 451.82,280.80 451.82,279.58 453.06,279.58 453.06,278.82 454.48,278.82 454.48,277.96 456.40,277.96 456.40,276.80 457.52,276.80 457.52,275.82 459.21,275.82 459.21,274.34 460.53,274.34 460.53,273.19 461.50,273.19 461.50,272.35 463.00,272.35 463.00,271.03 464.86,271.03 464.86,269.41 465.90,269.41 465.90,268.50 466.92,268.50 466.92,267.28 468.30,267.28 468.30,265.62 469.40,265.62 469.40,264.31 470.80,264.31 470.80,262.63 471.88,262.63 471.88,261.34 473.00,261.34 473.00,260.00 474.14,260.00 474.14,258.40 475.02,258.40 475.02,257.18 475.84,257.18 475.84,256.02 476.84,256.02 476.84,254.63 478.00,254.63 478.00,253.00 478.97,253.00 478.97,251.95 480.65,251.95 480.65,250.13 481.44,250.13 481.44,249.28 482.90,249.28 482.90,247.70 484.02,247.70 484.02,246.89 486.18,246.89 486.18,245.32 487.30,245.32 487.30,244.50 495.40,244.50" fill="none" stroke="#222" stroke-width="1.1" stroke-linejoin="round"/>
<polyline points="436.90,296.10 438.20,296.10 438.20,295.23 440.25,295.23 440.25,293.85 441.16,293.85 441.16,293.24 443.00,293.24 443.00,292.00 444.47,292.00 444.47,291.06 445.79,291.06 445.79,290.21 447.75,290.21 447.75,288.96 449.09,288.96 449.09,288.10 450.50,288.10 450.50,287.20 451.97,287.20 451.97,285.81 453.43,285.81 453.43,284.43 454.88,284.43 454.88,283.06 456.00,283.06 456.00,282.00 457.16,282.00 457.16,281.00 458.58,281.00 458.58,279.78 459.75,279.78 459.75,278.79 460.79,278.79 460.79,277.89 462.30,277.89 462.30,276.60 463.96,276.60 463.96,274.97 465.22,274.97 465.22,273.73 466.80,273.73 466.80,272.18 468.00,272.18 468.00,271.00 469.06,271.00 469.06,270.03 470.50,270.03 470.50,268.70 471.70,268.70 471.70,267.60 473.10,267.60 473.10,266.31 474.20,266.31 474.20,265.30 475.30,265.30 475.30,264.17 476.89,264.17 476.89,262.54 478.40,262.54 478.40,261.00 479.29,261.00 479.29,259.64 480.01,259.64 480.01,258.54 481.12,258.54 481.12,256.84 482.00,256.84 482.00,255.50 483.42,255.50 483.42,253.71 484.48,253.71 484.48,252.36 485.80,252.36 485.80,250.70 487.41,250.70 487.41,248.71 488.80,248.71 488.80,247.00 495.40,247.00" fill="none" stroke="#222" stroke-width="1.1" stroke-linejoin="round"/>
<polyline points="454.10,295.50 455.82,295.50 455.82,294.10 457.13,294.10 457.13,293.02 459.00,293.02 459.00,291.50 460.32,291.50 460.32,290.23 462.20,290.23 462.20,288.41 463.16,288.41 463.16,287.49 464.70,287.49 464.70,286.00 465.74,286.00 465.74,284.55 466.63,284.55 466.63,283.31 467.77,283.31 467.77,281.71 469.00,281.71 469.00,280.00 469.87,280.00 469.87,278.93 471.30,278.93 471.30,277.16 472.24,277.16 472.24,276.02 473.35,276.02 473.35,274.64 474.20,274.64 474.20,273.60 475.98,273.60 475.98,272.11 477.15,272.11 477.15,271.13 478.50,271.13 478.50,270.00 480.28,270.00 480.28,268.18 481.46,268.18 481.46,266.97 482.90,266.97 482.90,265.50 483.57,265.50 483.57,264.06 484.46,264.06 484.46,262.16 485.00,262.16 485.00,261.00 485.92,261.00 485.92,259.24 486.71,259.24 486.71,257.74 487.30,257.74 487.30,256.60 488.74,256.60 488.74,255.86 490.20,255.86 490.20,255.10 495.40,255.10" fill="none" stroke="#222" stroke-width="1.1" stroke-linejoin="round"/>
</svg>
</body></html>
